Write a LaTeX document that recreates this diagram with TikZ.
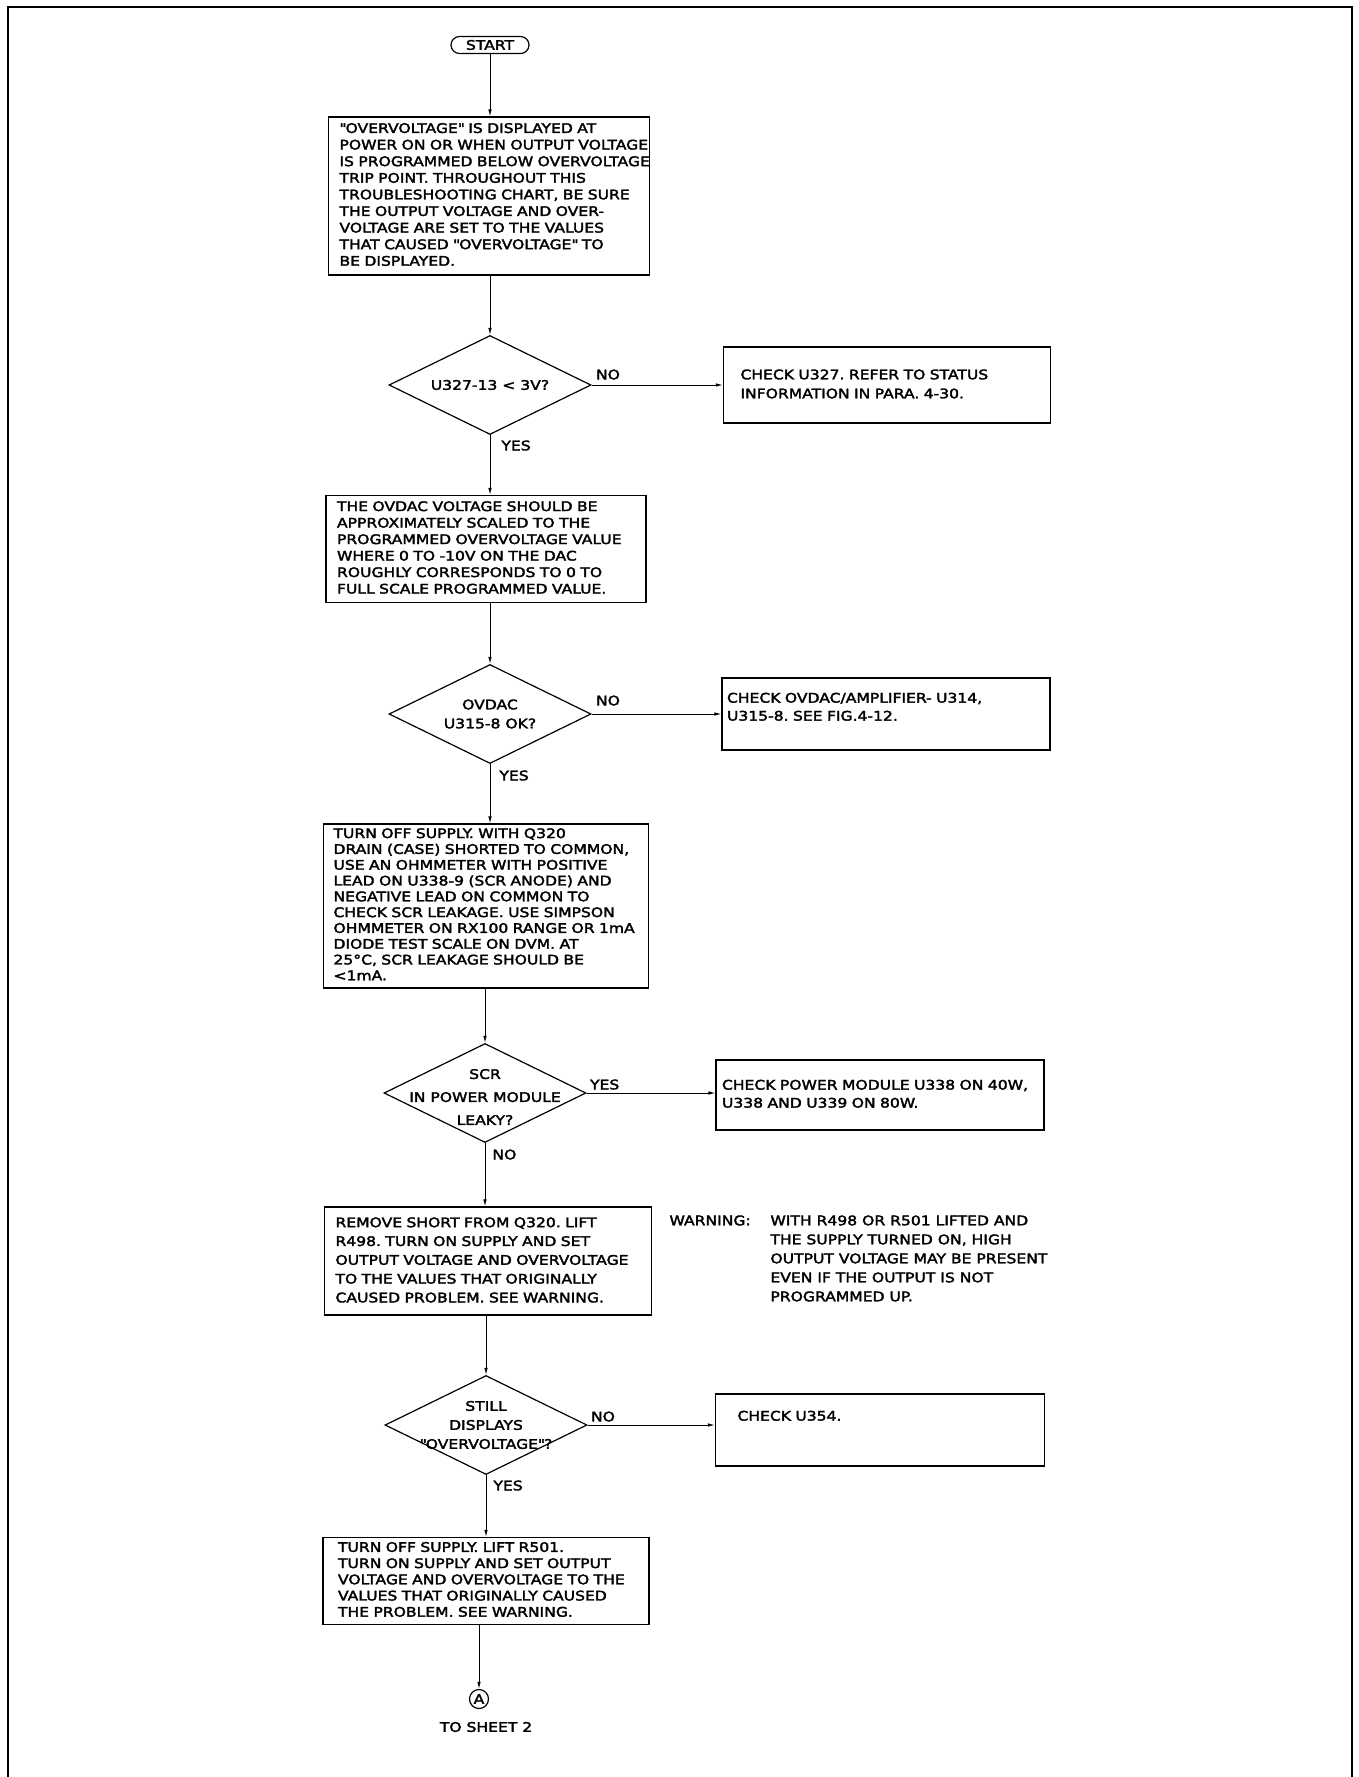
\documentclass[tikz,border=0pt]{standalone}
\usepackage{fontspec}
\setmainfont[FakeStretch=1.18, FakeBold=2.5]{DejaVu Sans}
\frenchspacing
\usetikzlibrary{shapes.geometric, arrows.meta}
\newcommand{\txtrows}[1]{\begin{tabular}{@{}l@{}}#1\end{tabular}}

\begin{document}
\begin{tikzpicture}[x=1pt, y=-1pt, ->, >={Latex[length=7pt, width=3.5pt]}, line width=0.9pt,
   act/.style={rectangle, draw, line width=1.2pt, inner ysep=0pt, font=\fontsize{13.2}{#1}\selectfont},
   dec/.style={diamond, draw, line width=1.2pt, inner sep=0pt, minimum width=202pt, minimum height=99pt},
   ask/.style={align=center, inner sep=0pt, font=\fontsize{13.2}{#1}\selectfont},
   term/.style={rectangle, draw, rounded corners=8.5pt, line width=1.2pt, minimum width=78pt, minimum height=17pt, inner sep=0pt, font=\fontsize{13.2}{15}\selectfont},
   conn/.style={circle, draw, line width=1.2pt, minimum size=19pt, inner sep=0pt, font=\fontsize{13.2}{15}\selectfont},
   ans/.style={inner sep=0pt, font=\fontsize{13.2}{15}\selectfont}]
  \useasboundingbox (0,0) rectangle (1359,1777);
  \draw[-, line width=2.5pt] (8,1777) -- (8,7) -- (1352,7) -- (1352,1777);

  \node[term] (start) at (490,45) {START};
  \node[act=16.6, inner xsep=11pt, text width=299pt, minimum height=158pt] (over) at (489,196)
    {\txtrows{\textquotedbl OVERVOLTAGE\textquotedbl{} IS DISPLAYED AT\\POWER ON OR WHEN OUTPUT VOLTAGE\\IS PROGRAMMED BELOW OVERVOLTAGE\\TRIP POINT. THROUGHOUT THIS\\TROUBLESHOOTING CHART, BE SURE\\THE OUTPUT VOLTAGE AND OVER-\\VOLTAGE ARE SET TO THE VALUES\\THAT CAUSED \textquotedbl OVERVOLTAGE\textquotedbl{} TO\\BE DISPLAYED.}};
  \node[dec, label={[ask=20]center:U327-13 < 3V?}] (q1) at (490,385) {};
  \node[act=19, inner xsep=17pt, text width=293pt, minimum height=76pt] (chk1) at (887,385)
    {\txtrows{CHECK U327. REFER TO STATUS\\INFORMATION IN PARA. 4-30.}};
  \node[act=16.5, inner xsep=11pt, text width=298pt, minimum height=107pt] (dacv) at (486,549)
    {\txtrows{THE OVDAC VOLTAGE SHOULD BE\\APPROXIMATELY SCALED TO THE\\PROGRAMMED OVERVOLTAGE VALUE\\WHERE 0 TO -10V ON THE DAC\\ROUGHLY CORRESPONDS TO 0 TO\\FULL SCALE PROGRAMMED VALUE.}};
  \node[dec, label={[ask=19]center:OVDAC\\U315-8 OK?}] (q2) at (490,714) {};
  \node[act=18, inner xsep=5pt, text width=318pt, minimum height=72pt, text depth=27pt] (chk2) at (886,714)
    {\txtrows{CHECK OVDAC/AMPLIFIER- U314,\\U315-8. SEE FIG.4-12.}};
  \node[act=15.8, inner xsep=10pt, text width=305pt, minimum height=164pt] (leak) at (486,906)
    {\txtrows{TURN OFF SUPPLY. WITH Q320\\DRAIN (CASE) SHORTED TO COMMON,\\USE AN OHMMETER WITH POSITIVE\\LEAD ON U338-9 (SCR ANODE) AND\\NEGATIVE LEAD ON COMMON TO\\CHECK SCR LEAKAGE. USE SIMPSON\\OHMMETER ON RX100 RANGE OR 1mA\\DIODE TEST SCALE ON DVM. AT\\25°C, SCR LEAKAGE SHOULD BE\\<1mA.}};
  \node[dec, label={[ask=23, yshift=-4pt]center:SCR\\IN POWER MODULE\\LEAKY?}] (q3) at (485,1093) {};
  \node[act=18, inner xsep=6pt, text width=316pt, minimum height=70pt] (chk3) at (880,1095)
    {\txtrows{CHECK POWER MODULE U338 ON 40W,\\U338 AND U339 ON 80W.}};
  \node[act=18.8, inner xsep=11pt, text width=305pt, minimum height=108pt] (lift1) at (488,1261)
    {\txtrows{REMOVE SHORT FROM Q320. LIFT\\R498. TURN ON SUPPLY AND SET\\OUTPUT VOLTAGE AND OVERVOLTAGE\\TO THE VALUES THAT ORIGINALLY\\CAUSED PROBLEM. SEE WARNING.}};
  \node[ans, anchor=north west] (warn) at (669,1215) {WARNING:};
  \node[ans, anchor=north west, align=left, font=\fontsize{13.2}{19}\selectfont] (warntxt) at (770,1215)
    {WITH R498 OR R501 LIFTED AND\\THE SUPPLY TURNED ON, HIGH\\OUTPUT VOLTAGE MAY BE PRESENT\\EVEN IF THE OUTPUT IS NOT\\PROGRAMMED UP.};
  \node[dec, label={[ask=19]center:STILL\\DISPLAYS\\\textquotedbl OVERVOLTAGE\textquotedbl ?}] (q4) at (486,1425) {};
  \node[act=18, inner xsep=22pt, text width=285pt, minimum height=72pt, text depth=32pt] (chk4) at (880,1430)
    {\txtrows{CHECK U354.}};
  \node[act=16.2, inner xsep=15pt, text width=296pt, minimum height=87pt] (lift2) at (486,1581)
    {\txtrows{TURN OFF SUPPLY. LIFT R501.\\TURN ON SUPPLY AND SET OUTPUT\\VOLTAGE AND OVERVOLTAGE TO THE\\VALUES THAT ORIGINALLY CAUSED\\THE PROBLEM. SEE WARNING.}};
  \node[conn] (sheetA) at (479,1699) {A};
  \node[ans] (tosheet) at (486,1727) {TO SHEET 2};

  \draw (start) -- (start |- over.north);
  \draw (over.south -| q1) -- (q1.north);
  \draw (q1.east) -- node[ans, above right, pos=0, xshift=4pt, yshift=5pt] {NO} (q1.east -| chk1.west);
  \draw (q1.south) -- node[ans, below right, pos=0, xshift=11pt, yshift=-5pt] {YES} (q1.south |- dacv.north);
  \draw (dacv.south -| q2) -- (q2.north);
  \draw (q2.east) -- node[ans, above right, pos=0, xshift=4pt, yshift=8pt] {NO} (q2.east -| chk2.west);
  \draw (q2.south) -- node[ans, below right, pos=0, xshift=9pt, yshift=-6pt] {YES} (q2.south |- leak.north);
  \draw (leak.south -| q3) -- (q3.north);
  \draw (q3.east) -- node[ans, above right, pos=0, xshift=3pt, yshift=3pt] {YES} (q3.east -| chk3.west);
  \draw (q3.south) -- node[ans, below right, pos=0, xshift=7pt, yshift=-6pt] {NO} (q3.south |- lift1.north);
  \draw (lift1.south -| q4) -- (q4.north);
  \draw (q4.east) -- node[ans, above right, pos=0, xshift=3pt, yshift=3pt] {NO} (q4.east -| chk4.west);
  \draw (q4.south) -- node[ans, below right, pos=0, xshift=7pt, yshift=-5pt] {YES} (q4.south |- lift2.north);
  \draw (lift2.south -| sheetA) -- (sheetA.north);
\end{tikzpicture}
\end{document}
